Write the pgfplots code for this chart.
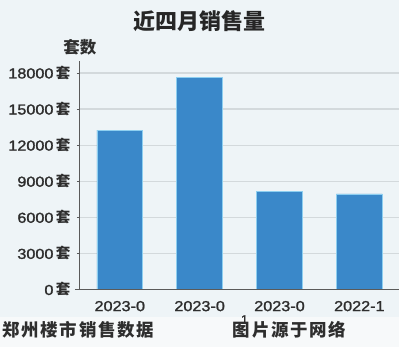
\documentclass[border=0pt]{standalone}
\usepackage{fontspec}
\usepackage{pgfplots}
\pgfplotsset{compat=1.18}
\setmainfont{Liberation Sans}[FakeStretch=1.12, FakeBold=1.5]
\newfontfamily\cjk{Noto Sans CJK SC}
\definecolor{bgtop}{HTML}{EEF4F7}
\definecolor{bgbot}{HTML}{F7F9FA}
\definecolor{barfill}{HTML}{3A88C9}
\definecolor{baredge}{HTML}{8ECFF0}
\definecolor{gridc}{HTML}{D3D9DC}
\definecolor{txt}{HTML}{2E2E2E}
\definecolor{axisc}{HTML}{5A5A5A}
\newcommand{\tao}{\,{\cjk\bfseries 套}}
\begin{document}
\begin{tikzpicture}[x=1pt,y=1pt]
  % page background: chart panel and caption strip
  \fill[bgbot] (0,0) rectangle (400,348);
  \fill[bgtop] (0,30) rectangle (400,348);
  \begin{axis}[
    at={(80pt,58pt)}, anchor=south west,
    scale only axis, width=320pt, height=229pt,
    xmin=-0.5, xmax=3.5, ymin=0, ymax=19000,
    axis x line*=bottom, axis y line*=left,
    x axis line style={draw=none},
    y axis line style={draw=axisc, line width=1.2pt},
    xtick=data,
    xticklabels={2023-0,2023-0,2023-0,2022-1},
    xtick style={draw=none},
    xticklabel style={font=\fontsize{14.5}{14.5}\selectfont, text=txt, yshift=-5pt},
    ytick={0,3000,6000,9000,12000,15000,18000},
    yticklabels={0\tao,3000\tao,6000\tao,9000\tao,12000\tao,15000\tao,18000\tao},
    yticklabel style={font=\fontsize{14.5}{14.5}\selectfont, text=txt, xshift=-3pt},
    ytick style={draw=axisc, line width=0.8pt},
    tick align=outside, major tick length=3pt,
    ymajorgrids,
    grid style={draw=gridc, line width=1.2pt},
    scaled y ticks=false,
    /pgf/number format/assume math mode=true,
    clip=false,
  ]
    \addplot[ybar, bar width=46pt, fill=barfill, draw=baredge, line width=0.6pt]
      coordinates {(0,13250) (1,17620) (2,8140) (3,7950)};
  \end{axis}
  % baseline, running slightly past the value axis
  \draw[axisc, line width=1.4pt] (75,58) -- (400,58);
  % titles and captions
  \node[font=\cjk\bfseries\fontsize{22}{22}\selectfont, text=black!85] at (200,327) {近四月销售量};
  \node[font=\cjk\bfseries\fontsize{16.5}{16.5}\selectfont, text=txt] at (80,301) {套数};
  \node[font=\fontsize{12}{12}\selectfont, text=txt] at (245,28) {1};
  \node[font=\cjk\bfseries\fontsize{17.5}{17.5}\selectfont\addfontfeature{LetterSpace=10}, text=txt, anchor=west, inner sep=0pt] at (2,18) {郑州楼市销售数据};
  \node[font=\cjk\bfseries\fontsize{17.5}{17.5}\selectfont\addfontfeature{LetterSpace=10}, text=txt, anchor=west, inner sep=0pt] at (233,18) {图片源于网络};
\end{tikzpicture}
\end{document}
